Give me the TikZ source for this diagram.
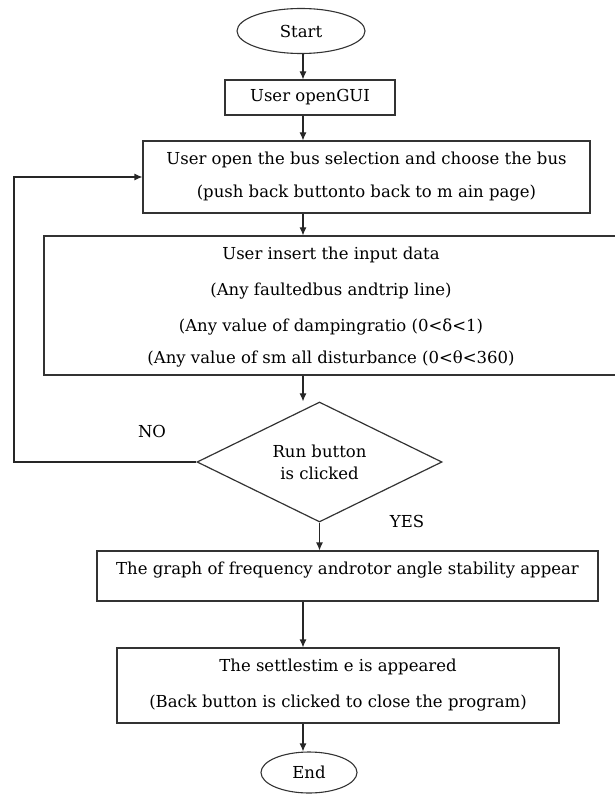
\documentclass[tikz,border=0pt]{standalone}
\usepackage{fontspec}
\setmainfont{DejaVu Serif}
\usetikzlibrary{shapes.geometric,arrows.meta}
\begin{document}
\begin{tikzpicture}[x=1pt,y=-1pt,
  txt/.style={font=\fontsize{16.5}{36}\selectfont},
  box/.style={draw=black!80, line width=1.1pt, rectangle, inner sep=0pt, align=center, txt},
  term/.style={draw=black!80, line width=1.1pt, ellipse, inner sep=0pt, txt},
  decision/.style={draw=black!80, line width=1.2pt, diamond, aspect=2, inner sep=0pt, align=center,
    font=\fontsize{16.5}{22}\selectfont},
  arr/.style={draw=black!85, line width=1.1pt, -{Latex[length=8pt,width=7pt]}},
  lbl/.style={inner sep=0pt, txt}
]
\useasboundingbox (0,0) rectangle (614,794);
\coordinate (col) at (303,0);
\coordinate (loopx) at (14,300);

\node[term, minimum width=128pt, minimum height=45pt] (start) at (301,31) {Start};
\node[box, minimum width=170pt, minimum height=35pt] (gui) at (310,97.5) {User openGUI};
\node[box, minimum width=447pt, minimum height=72pt] (bus) at (366.5,177)
  {User open the bus selection and choose the bus\\[-3pt](push back buttonto back to m ain page)};
\node[box, minimum width=600pt, minimum height=139pt] (input) at (344,305.5) {};
\node[lbl, align=center] (inputtxt) at (331,307)
  {User insert the input data\\(Any faultedbus andtrip line)\\(Any value of dampingratio (0<δ<1)\\[-4pt](Any value of sm all disturbance (0<θ<360)};
\node[decision, minimum width=245pt, minimum height=120pt] (dec) at (319.5,462)
  {Run button\\is clicked};
\node[box, minimum width=501pt, minimum height=50pt] (graph) at (347.5,576) {};
\node[lbl] (graphtxt) at (347.5,570) {The graph of frequency androtor angle stability appear};
\node[box, minimum width=442pt, minimum height=75pt] (settle) at (338,685.5)
  {The settlestim e is appeared\\(Back button is clicked to close the program)};
\node[term, minimum width=96pt, minimum height=41pt] (end) at (309,772.5) {End};

\node[lbl] (no) at (152,431) {NO};
\node[lbl] (yes) at (407,521) {YES};

\draw[arr] (start.south -| col) -- (gui.north -| col);
\draw[arr] (gui.south -| col) -- (bus.north -| col);
\draw[arr] (bus.south -| col) -- (input.north -| col);
\draw[arr] (input.south -| col) -- (dec.north -| col);
\draw[arr] (dec.south) -- (dec.south |- graph.north);
\draw[arr] (graph.south -| col) -- (settle.north -| col);
\draw[arr] (settle.south -| col) -- (end.north -| col);
\draw[arr] (dec.west) -| (loopx) |- (bus.west);
\end{tikzpicture}
\end{document}
